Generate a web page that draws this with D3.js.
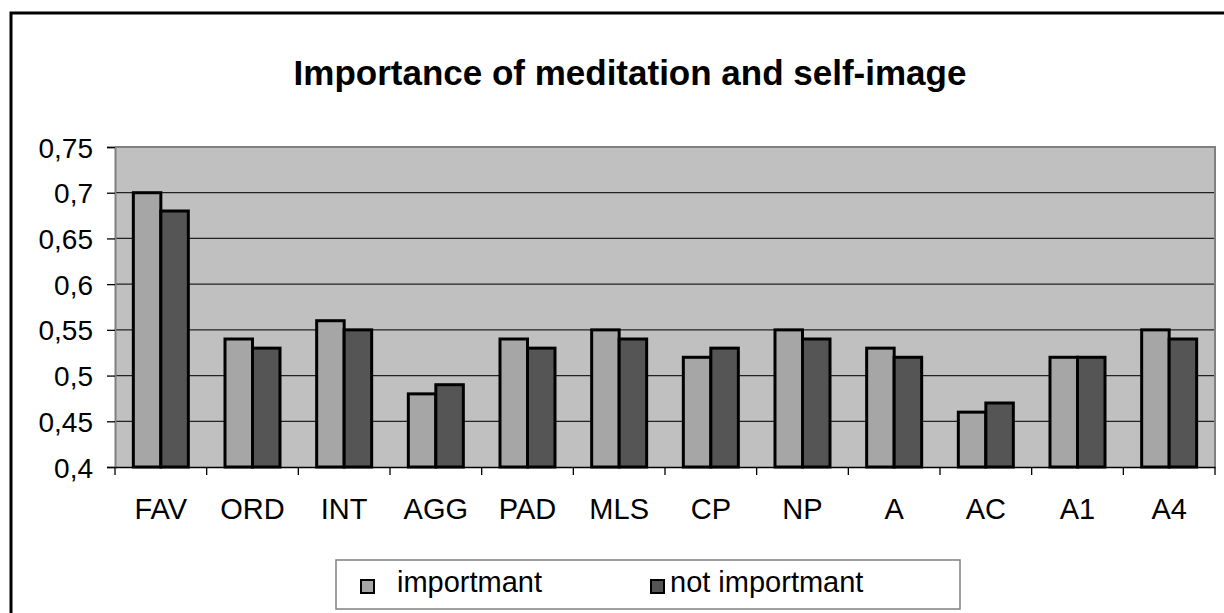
<!DOCTYPE html>
<html>
<head>
<meta charset="utf-8">
<script src="https://cdn.jsdelivr.net/npm/d3@7"></script>
<style>
  body { margin: 0; background: #fff; }
  text { font-family: "Liberation Sans", Arial, sans-serif; }
</style>
</head>
<body>
<svg id="chart" width="1224" height="613"></svg>
<script>
var categories = ["FAV", "ORD", "INT", "AGG", "PAD", "MLS", "CP", "NP", "A", "AC", "A1", "A4"];
var important = [0.70, 0.54, 0.56, 0.48, 0.54, 0.55, 0.52, 0.55, 0.53, 0.46, 0.52, 0.55];
var notImportant = [0.68, 0.53, 0.55, 0.49, 0.53, 0.54, 0.53, 0.54, 0.52, 0.47, 0.52, 0.54];
var seriesNames = ["importmant", "not importmant"];
var seriesColors = ["#a6a6a6", "#555555"];
var yTicks = [0.4, 0.45, 0.5, 0.55, 0.6, 0.65, 0.7, 0.75];

var svg = d3.select("#chart"),
    margin = {top: 147, left: 115},
    width = 1100,
    height = 320;

// outer chart frame
svg.append("rect")
    .attr("x", 11).attr("y", 13)
    .attr("width", 1230).attr("height", 620)
    .attr("fill", "#fff").attr("stroke", "#000").attr("stroke-width", 3);

svg.append("text")
    .attr("x", 630).attr("y", 85)
    .attr("text-anchor", "middle")
    .style("font-size", "35px").style("font-weight", "bold")
    .text("Importance of meditation and self-image");

var g = svg.append("g").attr("transform", "translate(" + margin.left + "," + margin.top + ")");

var x0 = d3.scaleBand().domain(categories).range([0, width]).paddingInner(0.4).paddingOuter(0.2);
var x1 = d3.scaleBand().domain([0, 1]).range([0, x0.bandwidth()]);
var xTick = d3.scaleBand().domain(categories).range([0, width]);
var y = d3.scaleLinear().domain([0.4, 0.75]).range([height, 0]);

g.append("rect")
    .attr("width", width).attr("height", height)
    .attr("fill", "#c0c0c0");

// gridlines
g.append("g")
    .selectAll("line")
    .data(yTicks.slice(1))
    .enter().append("line")
    .attr("x1", 0).attr("x2", width)
    .attr("y1", function (d) { return y(d); })
    .attr("y2", function (d) { return y(d); })
    .attr("stroke", "#222").attr("stroke-width", 1.3);

// plot border top/right
g.append("path")
    .attr("d", "M0,0H" + width + "V" + height)
    .attr("fill", "none").attr("stroke", "#808080").attr("stroke-width", 2);

var rows = categories.map(function (c, i) { return {cat: c, vals: [important[i], notImportant[i]]}; });

g.append("g")
    .selectAll("g")
    .data(rows)
    .enter().append("g")
    .attr("transform", function (d) { return "translate(" + x0(d.cat) + ",0)"; })
    .selectAll("rect")
    .data(function (d) { return d.vals; })
    .enter().append("rect")
    .attr("x", function (d, i) { return x1(i); })
    .attr("y", function (d) { return y(d); })
    .attr("width", x1.bandwidth())
    .attr("height", function (d) { return height - y(d); })
    .attr("fill", function (d, i) { return seriesColors[i]; })
    .attr("stroke", "#000").attr("stroke-width", 3);

// y axis
var yAxis = g.append("g")
    .call(d3.axisLeft(y).tickValues(yTicks).tickSize(8).tickPadding(14)
        .tickFormat(function (d) { return d3.format("")(+d.toFixed(2)).replace(".", ","); }));
yAxis.select(".domain").attr("stroke", "#808080").attr("stroke-width", 2);
yAxis.selectAll(".tick line").attr("stroke", "#000").attr("stroke-width", 1.3);
yAxis.selectAll("text").style("font-size", "28px").attr("fill", "#000").attr("dy", "0.36em");

// x axis
var xAxis = g.append("g")
    .attr("transform", "translate(0," + height + ")")
    .call(d3.axisBottom(x0).tickSize(0).tickPadding(31));
xAxis.select(".domain").attr("stroke", "#000").attr("stroke-width", 1.3);
xAxis.selectAll("text").style("font-size", "29px").attr("fill", "#000");

g.append("g")
    .selectAll("line")
    .data(categories.concat(["end"]))
    .enter().append("line")
    .attr("x1", function (d, i) { return i < categories.length ? xTick(d) : width; })
    .attr("x2", function (d, i) { return i < categories.length ? xTick(d) : width; })
    .attr("y1", height).attr("y2", height + 8)
    .attr("stroke", "#000").attr("stroke-width", 1.3);

// legend
var legend = svg.append("g").attr("transform", "translate(336,560)");
legend.append("rect")
    .attr("width", 624).attr("height", 49)
    .attr("fill", "#fff").attr("stroke", "#808080").attr("stroke-width", 1.5);
var items = legend.selectAll(".item")
    .data(seriesNames)
    .enter().append("g")
    .attr("transform", function (d, i) { return "translate(" + (i === 0 ? 25 : 315) + ",0)"; });
items.append("rect")
    .attr("x", 0).attr("y", 20)
    .attr("width", 13).attr("height", 13)
    .attr("fill", function (d, i) { return seriesColors[i]; })
    .attr("stroke", "#000").attr("stroke-width", 2);
items.append("text")
    .attr("x", function (d, i) { return i === 0 ? 36 : 19; })
    .attr("y", 32)
    .style("font-size", "29px")
    .text(function (d) { return d; });
</script>
</body>
</html>
